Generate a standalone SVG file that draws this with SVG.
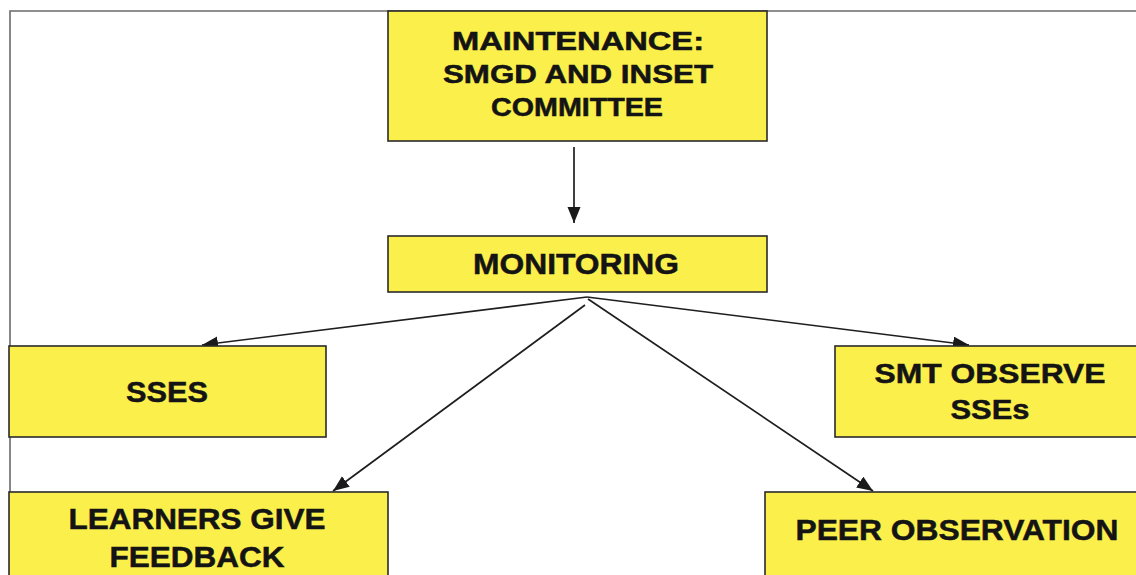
<svg xmlns="http://www.w3.org/2000/svg" width="1136" height="575" viewBox="0 0 1136 575">
  <style>
    .box { fill: #FBEF4C; stroke: #2a2a2a; stroke-width: 1.6; }
    .lbl { font-family: "Liberation Sans", Arial, sans-serif; font-weight: bold; fill: #141414; stroke: #141414; stroke-width: 0.5; text-anchor: middle; }
    .edge { stroke: #1e1e1e; stroke-width: 1.7; fill: none; marker-end: url(#arrow); }
    .frame { stroke: #6a6a6a; stroke-width: 1.6; fill: none; }
  </style>
  <defs>
    <marker id="arrow" markerUnits="userSpaceOnUse" markerWidth="18" markerHeight="14" refX="16" refY="6.5" orient="auto">
      <path d="M0,0 L16,6.5 L0,13 Z" fill="#1a1a1a"/>
    </marker>
  </defs>

  <rect x="0" y="0" width="1136" height="575" fill="#ffffff"/>

  <!-- page frame -->
  <path class="frame" d="M10,575 L10,11 L1136,11"/>

  <g id="connectors">
    <line class="edge" x1="574" y1="147" x2="574" y2="223"/>
    <line class="edge" x1="587" y1="297" x2="202" y2="345"/>
    <line class="edge" x1="587" y1="297" x2="969" y2="345"/>
    <line class="edge" x1="585" y1="305" x2="333" y2="491"/>
    <line class="edge" x1="588" y1="299" x2="873" y2="491"/>
  </g>

  <g id="maintenance">
    <rect class="box" x="388" y="11" width="379" height="130"/>
    <text class="lbl" x="578" y="50" font-size="25" textLength="252" lengthAdjust="spacingAndGlyphs">MAINTENANCE:</text>
    <text class="lbl" x="578" y="83" font-size="25" textLength="270" lengthAdjust="spacingAndGlyphs">SMGD AND INSET</text>
    <text class="lbl" x="577" y="116" font-size="25" textLength="172" lengthAdjust="spacingAndGlyphs">COMMITTEE</text>
  </g>

  <g id="monitoring">
    <rect class="box" x="388" y="236" width="379" height="56"/>
    <text class="lbl" x="576" y="274" font-size="30" textLength="206" lengthAdjust="spacingAndGlyphs">MONITORING</text>
  </g>

  <g id="sses">
    <rect class="box" x="9" y="346" width="317" height="91"/>
    <text class="lbl" x="167" y="402" font-size="30" textLength="82" lengthAdjust="spacingAndGlyphs">SSES</text>
  </g>

  <g id="smt-observe">
    <rect class="box" x="835" y="346" width="320" height="91"/>
    <text class="lbl" x="990" y="383" font-size="28" textLength="231" lengthAdjust="spacingAndGlyphs">SMT OBSERVE</text>
    <text class="lbl" x="990" y="419" font-size="28" textLength="79" lengthAdjust="spacingAndGlyphs">SSEs</text>
  </g>

  <g id="learners-feedback">
    <rect class="box" x="9" y="492" width="379" height="100"/>
    <text class="lbl" x="197" y="529" font-size="29" textLength="257" lengthAdjust="spacingAndGlyphs">LEARNERS GIVE</text>
    <text class="lbl" x="197" y="567" font-size="29" textLength="175" lengthAdjust="spacingAndGlyphs">FEEDBACK</text>
  </g>

  <g id="peer-observation">
    <rect class="box" x="765" y="492" width="400" height="100"/>
    <text class="lbl" x="957" y="540" font-size="30" textLength="323" lengthAdjust="spacingAndGlyphs">PEER OBSERVATION</text>
  </g>
</svg>
